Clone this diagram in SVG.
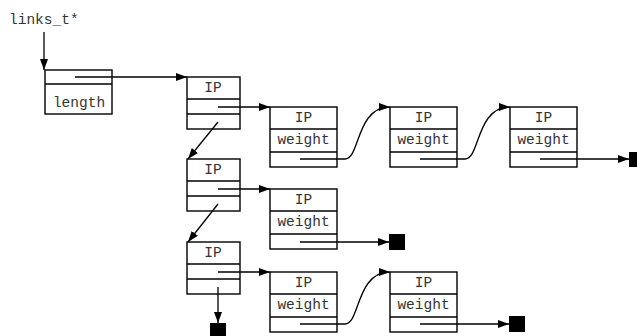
<svg xmlns="http://www.w3.org/2000/svg" width="637" height="336" viewBox="0 0 637 336">
<style>
.box{fill:#fff;stroke:#000;stroke-width:1.4}
.div{stroke:#000;stroke-width:1.4;fill:none}
.t{font-family:"Liberation Mono","Courier New",monospace;font-size:14.5px;fill:#333;text-anchor:middle}
.c{stroke:#000;stroke-width:1.3;fill:none;marker-end:url(#ah)}
.nul{fill:#000}
</style>
<defs>
<marker id="ah" markerUnits="userSpaceOnUse" markerWidth="12" markerHeight="10" refX="11" refY="4" orient="auto">
<path d="M0,0 L11,4 L0,8 z" fill="#000"/>
</marker>
</defs>
<rect width="637" height="336" fill="#fff"/>
<text x="9" y="24" class="t" style="text-anchor:start">links_t*</text>

<g id="head">
<rect class="box" x="45" y="70" width="67" height="44"/>
<line class="div" x1="45" y1="84" x2="112" y2="84"/>
<text class="t" x="79" y="107">length</text>
</g>

<g id="ip1">
<rect class="box" x="187" y="77" width="53" height="52"/>
<line class="div" x1="187" y1="99" x2="240" y2="99"/>
<line class="div" x1="187" y1="114" x2="240" y2="114"/>
<text class="t" x="213" y="92">IP</text>
</g>
<g id="ip2">
<rect class="box" x="187" y="159" width="53" height="52"/>
<line class="div" x1="187" y1="181" x2="240" y2="181"/>
<line class="div" x1="187" y1="196" x2="240" y2="196"/>
<text class="t" x="213" y="174">IP</text>
</g>
<g id="ip3">
<rect class="box" x="187" y="242" width="53" height="52"/>
<line class="div" x1="187" y1="264" x2="240" y2="264"/>
<line class="div" x1="187" y1="279" x2="240" y2="279"/>
<text class="t" x="213" y="257">IP</text>
</g>

<g id="w1a">
<rect class="box" x="270" y="107" width="67" height="60"/>
<line class="div" x1="270" y1="129" x2="337" y2="129"/>
<line class="div" x1="270" y1="152" x2="337" y2="152"/>
<text class="t" x="303.5" y="122">IP</text>
<text class="t" x="303.5" y="144">weight</text>
</g>
<g id="w1b">
<rect class="box" x="390" y="107" width="67" height="60"/>
<line class="div" x1="390" y1="129" x2="457" y2="129"/>
<line class="div" x1="390" y1="152" x2="457" y2="152"/>
<text class="t" x="423.5" y="122">IP</text>
<text class="t" x="423.5" y="144">weight</text>
</g>
<g id="w1c">
<rect class="box" x="510" y="107" width="67" height="60"/>
<line class="div" x1="510" y1="129" x2="577" y2="129"/>
<line class="div" x1="510" y1="152" x2="577" y2="152"/>
<text class="t" x="543.5" y="122">IP</text>
<text class="t" x="543.5" y="144">weight</text>
</g>
<g id="w2a">
<rect class="box" x="270" y="189" width="67" height="60"/>
<line class="div" x1="270" y1="211" x2="337" y2="211"/>
<line class="div" x1="270" y1="234" x2="337" y2="234"/>
<text class="t" x="303.5" y="204">IP</text>
<text class="t" x="303.5" y="226">weight</text>
</g>
<g id="w3a">
<rect class="box" x="270" y="272" width="67" height="60"/>
<line class="div" x1="270" y1="294" x2="337" y2="294"/>
<line class="div" x1="270" y1="317" x2="337" y2="317"/>
<text class="t" x="303.5" y="287">IP</text>
<text class="t" x="303.5" y="309">weight</text>
</g>
<g id="w3b">
<rect class="box" x="390" y="272" width="67" height="60"/>
<line class="div" x1="390" y1="294" x2="457" y2="294"/>
<line class="div" x1="390" y1="317" x2="457" y2="317"/>
<text class="t" x="423.5" y="287">IP</text>
<text class="t" x="423.5" y="309">weight</text>
</g>

<g id="connectors">
<path class="c" d="M44,32 L44,70"/>
<path class="c" d="M75,77 L187,77"/>
<path class="c" d="M218,107 L270,107"/>
<path class="c" d="M300,159 L345,159 C360,159 356,107 390,107"/>
<path class="c" d="M420,159 L465,159 C480,159 476,107 510,107"/>
<path class="c" d="M540,159 L629,159"/>
<path class="c" d="M218,122 L188,159"/>
<path class="c" d="M218,189 L270,189"/>
<path class="c" d="M300,242 L389,242"/>
<path class="c" d="M218,204 L188,242"/>
<path class="c" d="M218,272 L270,272"/>
<path class="c" d="M300,324 L345,324 C360,324 356,272 390,272"/>
<path class="c" d="M420,324 L509,324"/>
<path class="c" d="M218,287 L218,323"/>
<rect class="nul" x="629" y="152" width="16" height="15"/>
<rect class="nul" x="389" y="234" width="16" height="16"/>
<rect class="nul" x="509" y="316" width="16" height="16"/>
<rect class="nul" x="210" y="323" width="16" height="15"/>
</g>
</svg>
